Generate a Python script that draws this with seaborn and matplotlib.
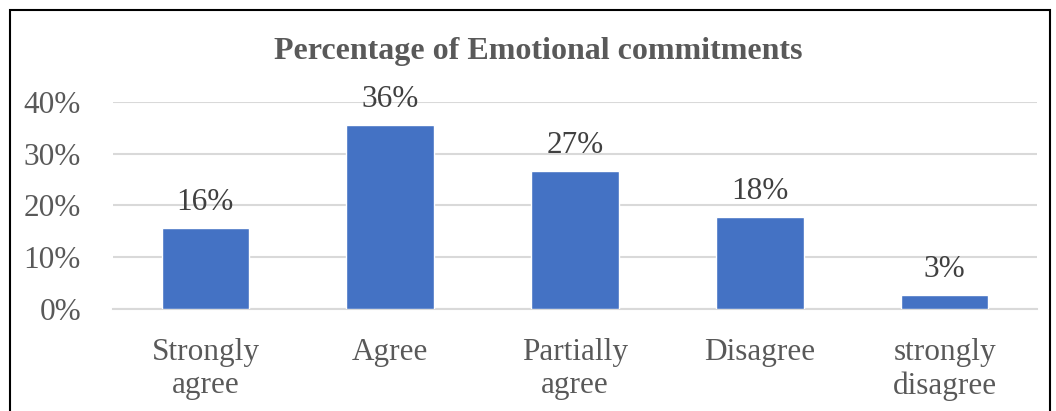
import matplotlib
matplotlib.use("Agg")
import matplotlib.pyplot as plt
import seaborn as sns
import pandas as pd
from matplotlib.patches import Rectangle
from matplotlib.ticker import PercentFormatter

categories = ["Strongly\nagree", "Agree", "Partially\nagree", "Disagree", "strongly\ndisagree"]
values = [15.6, 35.6, 26.7, 17.8, 2.6]
labels = ["16%", "36%", "27%", "18%", "3%"]
yticks = [0, 10, 20, 30, 40]

sns.set_theme(style="white")
plt.rcParams['font.family'] = ['Liberation Serif', 'DejaVu Serif']

df = pd.DataFrame({"cat": categories, "val": values})

fig = plt.figure(figsize=(10.56, 4.11), dpi=100)
ax = fig.add_axes([113/1056, 102.5/411, (1037-113)/1056, 206/411])

sns.barplot(data=df, x="cat", y="val", color="#4472C4", width=0.475, ax=ax, saturation=1, zorder=3)

ax.set_ylim(0, 40)
ax.set_xlim(-0.5, 4.5)
ax.set_yticks(yticks)
ax.yaxis.set_major_formatter(PercentFormatter(decimals=0))
ax.grid(axis="y", color="#d9d9d9", linewidth=1.5, zorder=0)
ax.set_axisbelow(True)
for s in ["top", "right", "left"]:
    ax.spines[s].set_visible(False)
ax.spines["bottom"].set_color("#d9d9d9")
ax.spines["bottom"].set_linewidth(1.5)
ax.set_xlabel("")
ax.set_ylabel("")

ax.tick_params(axis="y", length=0, pad=23, labelsize=22.5, labelcolor="#595959")
ax.tick_params(axis="x", which="major", length=0, pad=21, labelsize=22.5, labelcolor="#595959")
ax.set_xticks([i - 0.5 for i in range(6)], minor=True)
ax.tick_params(axis="x", which="minor", length=8, width=1.5, color="#d9d9d9")
for t in ax.get_xticklabels():
    t.set_linespacing(1.2)

for i, (v, lab) in enumerate(zip(values, labels)):
    ax.annotate(lab, (i, v), xytext=(0, 8), textcoords="offset points",
                ha="center", va="bottom", fontsize=22.5, color="#404040")

fig.text(538/1056, 1 - 51/411, "Percentage of Emotional commitments", ha="center", va="center",
         fontsize=23, fontweight="bold", color="#595959")

fig.patches.append(Rectangle((10/1056, -0.1), 1040/1056, 1.1 - 10/411, transform=fig.transFigure,
                             fill=False, edgecolor="black", linewidth=1.5))

fig.savefig("out.png", dpi=100)
